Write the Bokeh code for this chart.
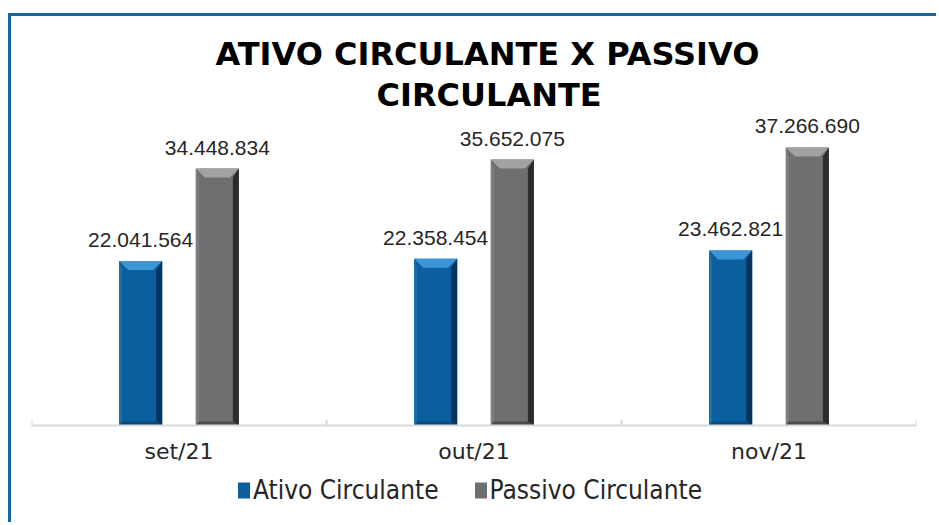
from bokeh.plotting import figure
from bokeh.models import (ColumnDataSource, FixedTicker, LabelSet, Legend, LegendItem,
                          Title, Range1d)
from bokeh.core.properties import value
from bokeh.embed import file_html
from bokeh.resources import INLINE

# ---- data ----
categories = ["set/21", "out/21", "nov/21"]
ativo = [22041564, 22358454, 23462821]
passivo = [34448834, 35652075, 37266690]
series_names = ["Ativo Circulante", "Passivo Circulante"]
title_lines = ["ATIVO CIRCULANTE X PASSIVO", "CIRCULANTE"]

# ---- layout (canvas is offset by the chart-area border: 11px left, 16px top) ----
W, H = 928, 509
FL, FR, FT = 20, 905, 99
BASE = 409                    # canvas y of the value axis baseline
n = len(categories)
ppm = 7.46e-6                 # pixels per unit value
y_top = (BASE - FT) / ppm
y_bot = -(H - BASE) / ppm
px_x = n / (FR - FL)          # data units per pixel (x)
px_y = 1 / ppm                # data units per pixel (y)

p = figure(width=W, height=H, output_backend="svg", toolbar_location=None,
           x_range=Range1d(-0.5, n - 0.5), y_range=Range1d(y_bot, y_top),
           min_border_left=FL, min_border_right=W - FR,
           min_border_top=FT, min_border_bottom=0,
           y_axis_location=None, title_location=None)
p.outline_line_color = None
p.grid.visible = False
p.background_fill_color = "white"
p.border_fill_color = "white"
p.styles = {"margin-left": "8px", "margin-top": "13px",
            "border-left": "3px solid #1565a6", "border-top": "3px solid #1565a6"}

bw = 0.146
off = 0.13
xa = [i - off for i in range(n)]
xp = [i + off for i in range(n)]

def fmt(v):
    return f"{v:,}".replace(",", ".")

styles = {
    "a": dict(main="#0b5f9f", top="#3b95d6", right="#06345a", left="#1670b2", bottom="#094a7e"),
    "p": dict(main="#6f6f71", top="#a2a2a4", right="#2c2c2e", left="#7e7e80", bottom="#4a4a4c"),
}

renderers = []
for key, xs, vals in (("a", xa, ativo), ("p", xp, passivo)):
    st = styles[key]
    src = ColumnDataSource(dict(x=xs, top=vals, label=[fmt(v) for v in vals]))
    r = p.vbar(x="x", top="top", bottom=0, width=bw, source=src,
               fill_color=st["main"], line_color=None)
    renderers.append(r)
    # bevel facets computed from the data values
    b = 9 * px_x
    bh = 9 * px_y
    bb = 4 * px_y
    pxs, pys, cols = [], [], []
    for x, v in zip(xs, vals):
        l, rr = x - bw / 2, x + bw / 2
        pxs.append([l, rr, rr - b, l + b]); pys.append([v, v, v - bh, v - bh]); cols.append(st["top"])
        pxs.append([rr, rr, rr - 6 * px_x, rr - 6 * px_x]); pys.append([v, 0, bb, v - bh]); cols.append(st["right"])
        pxs.append([l, l, l + 3 * px_x, l + 3 * px_x]); pys.append([v, 0, bb, v - bh]); cols.append(st["left"])
        pxs.append([l, rr, rr - 6 * px_x, l + 3 * px_x]); pys.append([0, 0, bb, bb]); cols.append(st["bottom"])
    p.patches(xs=pxs, ys=pys, fill_color=cols, line_color=None)
    labels = LabelSet(x="x", y="top", text="label", source=src, text_align="center",
                      text_baseline="alphabetic", y_offset=14,
                      text_font=value("Liberation Sans"), text_font_size="21px",
                      text_color="#262626")
    p.add_layout(labels)

# ---- x axis: fixed at value 0, labels at centres, ticks at category boundaries ----
ax = p.xaxis[0]
ax.fixed_location = 0
ax.ticker = FixedTicker(ticks=list(range(n)), minor_ticks=[i - 0.5 for i in range(n + 1)])
ax.major_label_overrides = {i: c for i, c in enumerate(categories)}
ax.axis_line_color = "#d9d9d9"
ax.axis_line_width = 2
ax.major_tick_line_color = None
ax.major_tick_out = 6
ax.major_tick_in = 0
ax.minor_tick_line_color = "#d9d9d9"
ax.minor_tick_line_width = 2
ax.minor_tick_out = 0
ax.minor_tick_in = 6
ax.major_label_standoff = 7
ax.major_label_text_font = "DejaVu Sans"
ax.major_label_text_font_size = "22px"
ax.major_label_text_color = "#262626"

# ---- legend (below the axis, positioned relative to the plot frame) ----
legend = Legend(items=[LegendItem(label=series_names[0], renderers=[renderers[0]]),
                       LegendItem(label=series_names[1], renderers=[renderers[1]])],
                orientation="horizontal", location=(205, 20),
                border_line_color=None, background_fill_alpha=0,
                glyph_width=15, glyph_height=20, label_standoff=2, spacing=34,
                padding=5, margin=0,
                label_text_font="DejaVu Sans Condensed, Liberation Sans",
                label_text_font_size="26px", label_text_color="#262626")
p.add_layout(legend)

# ---- titles ----
t2 = Title(text=title_lines[1], align="left", offset=345, vertical_align="bottom",
           standoff=3, text_font="DejaVu Sans", text_font_style="bold",
           text_font_size="32px", text_color="#000000")
t1 = Title(text=title_lines[0], align="left", offset=184, vertical_align="bottom",
           standoff=0, text_font="DejaVu Sans", text_font_style="bold",
           text_font_size="32px", text_color="#000000")
p.add_layout(t2, "above")
p.add_layout(t1, "above")

open("out.html", "w").write(file_html(p, INLINE))
